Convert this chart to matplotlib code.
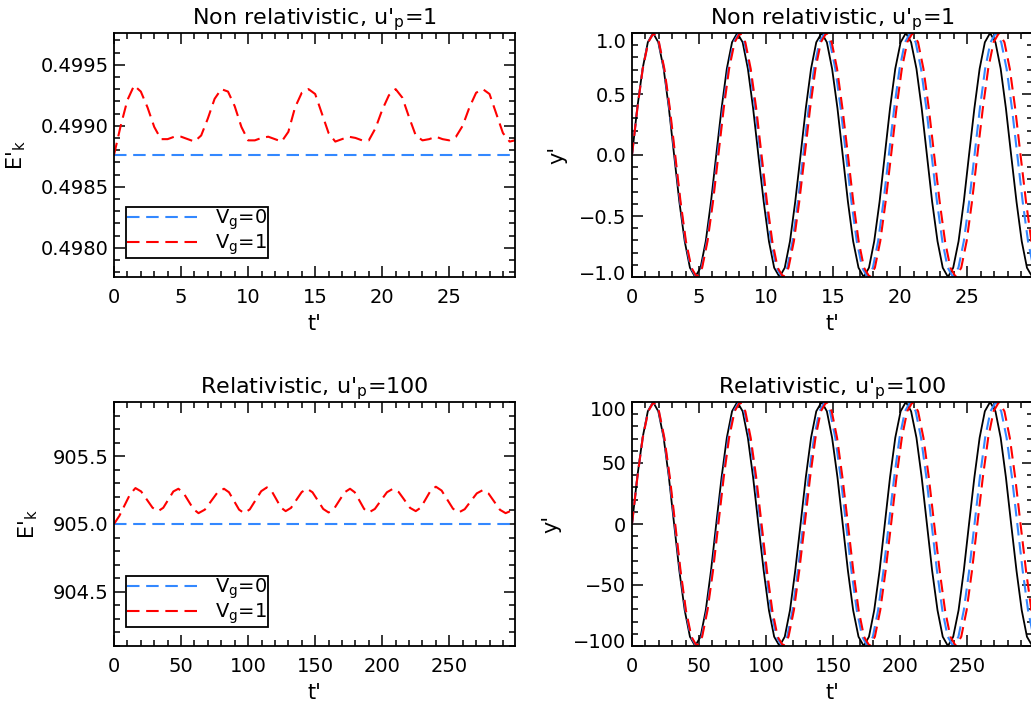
import matplotlib
matplotlib.use("Agg")
import matplotlib.pyplot as plt
from matplotlib.ticker import MultipleLocator, FuncFormatter
from matplotlib.transforms import ScaledTranslation

plt.rcParams['font.family'] = ['DejaVu Sans']
plt.rcParams['mathtext.default'] = 'regular'
plt.rcParams['lines.scale_dashes'] = False

# ---------------- data ----------------
# Kinetic energy, non relativistic (u'p = 1)
E_nr_t = [0.0, 0.5, 1.0, 1.5, 2.0, 2.5, 3.0, 3.5, 4.0, 4.5,
          5.0, 5.5, 6.0, 6.5, 7.0, 7.5, 8.0, 8.5, 9.0, 9.5,
          10.0, 10.5, 11.0, 11.5, 12.0, 12.5, 13.0, 13.5, 14.0, 14.5,
          15.0, 15.5, 16.0, 16.5, 17.0, 17.5, 18.0, 18.5, 19.0, 19.5,
          20.0, 20.5, 21.0, 21.5, 22.0, 22.5, 23.0, 23.5, 24.0, 24.5,
          25.0, 25.5, 26.0, 26.5, 27.0, 27.5, 28.0, 28.5, 29.0, 29.5, 29.9]
E_nr_vg1 = [0.49876, 0.49900, 0.49921, 0.49933, 0.49928, 0.49915, 0.49899, 0.49889, 0.49889, 0.49891,
            0.49891, 0.49889, 0.49887, 0.49892, 0.49906, 0.49922, 0.49930, 0.49928, 0.49916, 0.49899,
            0.49888, 0.49888, 0.49890, 0.49891, 0.49889, 0.49887, 0.49895, 0.49915, 0.49927, 0.49930,
            0.49926, 0.49910, 0.49894, 0.49887, 0.49889, 0.49891, 0.49890, 0.49888, 0.49888, 0.49898,
            0.49913, 0.49925, 0.49930, 0.49923, 0.49907, 0.49892, 0.49888, 0.49889, 0.49891, 0.49889,
            0.49888, 0.49891, 0.49900, 0.49915, 0.49927, 0.49930, 0.49926, 0.49910, 0.49894, 0.49887, 0.49888]
E_nr_vg0_t = [0.0, 29.9]
E_nr_vg0 = [0.49876, 0.49876]

# Kinetic energy, relativistic (u'p = 100)
E_r_t = [0, 4, 8, 12, 16,
         20.25, 24.5, 28.75, 33,
         36.75, 40.5, 44.25, 48,
         51.75, 55.5, 59.25, 63,
         67.75, 72.5, 77.25, 82,
         85.75, 89.5, 93.25, 97,
         101.25, 105.5, 109.75, 114,
         117.5, 121, 124.5, 128,
         132, 136, 140, 144,
         148, 152, 156, 160,
         164, 168, 172, 176,
         179.5, 183, 186.5, 190,
         194.5, 199, 203.5, 208,
         212.25, 216.5, 220.75, 225,
         228.75, 232.5, 236.25, 240,
         244.25, 248.5, 252.75, 257,
         261.5, 266, 270.5, 275,
         279.25, 283.5, 287.75, 292,
         295.5, 299]
E_r_vg1 = [905.000, 905.060, 905.140, 905.220, 905.265,
           905.240, 905.180, 905.120, 905.095,
           905.120, 905.180, 905.240, 905.260,
           905.230, 905.170, 905.110, 905.080,
           905.106, 905.170, 905.234, 905.260,
           905.234, 905.170, 905.106, 905.080,
           905.108, 905.175, 905.242, 905.270,
           905.244, 905.183, 905.121, 905.095,
           905.119, 905.178, 905.236, 905.260,
           905.234, 905.173, 905.111, 905.085,
           905.111, 905.173, 905.234, 905.260,
           905.234, 905.173, 905.111, 905.085,
           905.111, 905.173, 905.234, 905.260,
           905.236, 905.178, 905.119, 905.095,
           905.121, 905.185, 905.249, 905.275,
           905.247, 905.180, 905.113, 905.085,
           905.109, 905.168, 905.226, 905.250,
           905.225, 905.165, 905.105, 905.080,
           905.095, 905.120]
E_r_vg0_t = [0.0, 299.0]
E_r_vg0 = [905.0, 905.0]

# Trajectory y', non relativistic
ynr_ref_t = [0.00, 0.39, 0.79, 1.18, 1.57, 1.96, 2.36, 2.75,
             3.14, 3.53, 3.93, 4.32, 4.71, 5.11, 5.50, 5.89,
             6.28, 6.68, 7.07, 7.46, 7.85, 8.25, 8.64, 9.03,
             9.42, 9.82, 10.21, 10.60, 11.00, 11.39, 11.78, 12.17,
             12.57, 12.96, 13.35, 13.74, 14.14, 14.53, 14.92, 15.32,
             15.71, 16.10, 16.49, 16.89, 17.28, 17.67, 18.06, 18.46,
             18.85, 19.24, 19.63, 20.03, 20.42, 20.81, 21.21, 21.60,
             21.99, 22.38, 22.78, 23.17, 23.56, 23.95, 24.35, 24.74,
             25.13, 25.53, 25.92, 26.31, 26.70, 27.10, 27.49, 27.88,
             28.27, 28.67, 29.06, 29.45, 29.85, 30.24]
ynr_ref = [0.0, 0.383, 0.707, 0.924, 1.0, 0.924, 0.707, 0.383,
           0.0, -0.383, -0.707, -0.924, -1.0, -0.924, -0.707, -0.383,
           0.0, 0.383, 0.707, 0.924, 1.0, 0.924, 0.707, 0.383,
           0.0, -0.383, -0.707, -0.924, -1.0, -0.924, -0.707, -0.383,
           0.0, 0.383, 0.707, 0.924, 1.0, 0.924, 0.707, 0.383,
           0.0, -0.383, -0.707, -0.924, -1.0, -0.924, -0.707, -0.383,
           0.0, 0.383, 0.707, 0.924, 1.0, 0.924, 0.707, 0.383,
           0.0, -0.383, -0.707, -0.924, -1.0, -0.924, -0.707, -0.383,
           0.0, 0.383, 0.707, 0.924, 1.0, 0.924, 0.707, 0.383,
           0.0, -0.383, -0.707, -0.924, -1.0, -0.924]

ynr_vg0_t = [0.00, 0.40, 0.80, 1.20, 1.60, 2.00, 2.39, 2.79,
             3.19, 3.59, 3.99, 4.39, 4.79, 5.19, 5.59, 5.99,
             6.38, 6.78, 7.18, 7.58, 7.98, 8.38, 8.78, 9.18,
             9.58, 9.98, 10.37, 10.77, 11.17, 11.57, 11.97, 12.37,
             12.77, 13.17, 13.57, 13.97, 14.36, 14.76, 15.16, 15.56,
             15.96, 16.36, 16.76, 17.16, 17.56, 17.96, 18.35, 18.75,
             19.15, 19.55, 19.95, 20.35, 20.75, 21.15, 21.55, 21.95,
             22.34, 22.74, 23.14, 23.54, 23.94, 24.34, 24.74, 25.14,
             25.54, 25.94, 26.33, 26.73, 27.13, 27.53, 27.93, 28.33,
             28.73, 29.13, 29.53, 29.93, 30.32]
ynr_vg0 = [0.0, 0.383, 0.707, 0.924, 1.0, 0.924, 0.707, 0.383,
           0.0, -0.383, -0.707, -0.924, -1.0, -0.924, -0.707, -0.383,
           0.0, 0.383, 0.707, 0.924, 1.0, 0.924, 0.707, 0.383,
           0.0, -0.383, -0.707, -0.924, -1.0, -0.924, -0.707, -0.383,
           0.0, 0.383, 0.707, 0.924, 1.0, 0.924, 0.707, 0.383,
           0.0, -0.383, -0.707, -0.924, -1.0, -0.924, -0.707, -0.383,
           0.0, 0.383, 0.707, 0.924, 1.0, 0.924, 0.707, 0.383,
           0.0, -0.383, -0.707, -0.924, -1.0, -0.924, -0.707, -0.383,
           0.0, 0.383, 0.707, 0.924, 1.0, 0.924, 0.707, 0.383,
           0.0, -0.383, -0.707, -0.924, -1.0]

ynr_vg1_t = [0.00, 0.40, 0.80, 1.21, 1.61, 2.01, 2.41, 2.82,
             3.22, 3.62, 4.02, 4.43, 4.83, 5.23, 5.63, 6.04,
             6.44, 6.84, 7.24, 7.65, 8.05, 8.45, 8.85, 9.26,
             9.66, 10.06, 10.46, 10.86, 11.27, 11.67, 12.07, 12.47,
             12.88, 13.28, 13.68, 14.08, 14.49, 14.89, 15.29, 15.69,
             16.10, 16.50, 16.90, 17.30, 17.71, 18.11, 18.51, 18.91,
             19.32, 19.72, 20.12, 20.52, 20.92, 21.33, 21.73, 22.13,
             22.53, 22.94, 23.34, 23.74, 24.14, 24.55, 24.95, 25.35,
             25.75, 26.16, 26.56, 26.96, 27.36, 27.77, 28.17, 28.57,
             28.97, 29.38, 29.78, 30.18]
ynr_vg1 = [0.0, 0.383, 0.707, 0.924, 1.0, 0.924, 0.707, 0.383,
           0.0, -0.383, -0.707, -0.924, -1.0, -0.924, -0.707, -0.383,
           0.0, 0.383, 0.707, 0.924, 1.0, 0.924, 0.707, 0.383,
           0.0, -0.383, -0.707, -0.924, -1.0, -0.924, -0.707, -0.383,
           0.0, 0.383, 0.707, 0.924, 1.0, 0.924, 0.707, 0.383,
           0.0, -0.383, -0.707, -0.924, -1.0, -0.924, -0.707, -0.383,
           0.0, 0.383, 0.707, 0.924, 1.0, 0.924, 0.707, 0.383,
           0.0, -0.383, -0.707, -0.924, -1.0, -0.924, -0.707, -0.383,
           0.0, 0.383, 0.707, 0.924, 1.0, 0.924, 0.707, 0.383,
           0.0, -0.383, -0.707, -0.924]

# Trajectory y', relativistic
yr_ref_t = [0.0, 3.9, 7.9, 11.8, 15.7, 19.6, 23.6, 27.5,
            31.4, 35.3, 39.3, 43.2, 47.1, 51.1, 55.0, 58.9,
            62.8, 66.8, 70.7, 74.6, 78.5, 82.5, 86.4, 90.3,
            94.2, 98.2, 102.1, 106.0, 110.0, 113.9, 117.8, 121.7,
            125.7, 129.6, 133.5, 137.4, 141.4, 145.3, 149.2, 153.2,
            157.1, 161.0, 164.9, 168.9, 172.8, 176.7, 180.6, 184.6,
            188.5, 192.4, 196.3, 200.3, 204.2, 208.1, 212.1, 216.0,
            219.9, 223.8, 227.8, 231.7, 235.6, 239.5, 243.5, 247.4,
            251.3, 255.3, 259.2, 263.1, 267.0, 271.0, 274.9, 278.8,
            282.7, 286.7, 290.6, 294.5, 298.5, 302.4]
yr_ref = [0.0, 38.3, 70.7, 92.4, 100.0, 92.4, 70.7, 38.3,
          0.0, -38.3, -70.7, -92.4, -100.0, -92.4, -70.7, -38.3,
          0.0, 38.3, 70.7, 92.4, 100.0, 92.4, 70.7, 38.3,
          0.0, -38.3, -70.7, -92.4, -100.0, -92.4, -70.7, -38.3,
          0.0, 38.3, 70.7, 92.4, 100.0, 92.4, 70.7, 38.3,
          0.0, -38.3, -70.7, -92.4, -100.0, -92.4, -70.7, -38.3,
          0.0, 38.3, 70.7, 92.4, 100.0, 92.4, 70.7, 38.3,
          0.0, -38.3, -70.7, -92.4, -100.0, -92.4, -70.7, -38.3,
          0.0, 38.3, 70.7, 92.4, 100.0, 92.4, 70.7, 38.3,
          0.0, -38.3, -70.7, -92.4, -100.0, -92.4]

yr_vg0_t = [0.0, 4.0, 8.0, 12.0, 16.0, 20.0, 23.9, 27.9,
            31.9, 35.9, 39.9, 43.9, 47.9, 51.9, 55.9, 59.9,
            63.8, 67.8, 71.8, 75.8, 79.8, 83.8, 87.8, 91.8,
            95.8, 99.8, 103.7, 107.7, 111.7, 115.7, 119.7, 123.7,
            127.7, 131.7, 135.7, 139.7, 143.6, 147.6, 151.6, 155.6,
            159.6, 163.6, 167.6, 171.6, 175.6, 179.6, 183.5, 187.5,
            191.5, 195.5, 199.5, 203.5, 207.5, 211.5, 215.5, 219.5,
            223.4, 227.4, 231.4, 235.4, 239.4, 243.4, 247.4, 251.4,
            255.4, 259.4, 263.3, 267.3, 271.3, 275.3, 279.3, 283.3,
            287.3, 291.3, 295.3, 299.3, 303.2]
yr_vg0 = [0.0, 38.3, 70.7, 92.4, 100.0, 92.4, 70.7, 38.3,
          0.0, -38.3, -70.7, -92.4, -100.0, -92.4, -70.7, -38.3,
          0.0, 38.3, 70.7, 92.4, 100.0, 92.4, 70.7, 38.3,
          0.0, -38.3, -70.7, -92.4, -100.0, -92.4, -70.7, -38.3,
          0.0, 38.3, 70.7, 92.4, 100.0, 92.4, 70.7, 38.3,
          0.0, -38.3, -70.7, -92.4, -100.0, -92.4, -70.7, -38.3,
          0.0, 38.3, 70.7, 92.4, 100.0, 92.4, 70.7, 38.3,
          0.0, -38.3, -70.7, -92.4, -100.0, -92.4, -70.7, -38.3,
          0.0, 38.3, 70.7, 92.4, 100.0, 92.4, 70.7, 38.3,
          0.0, -38.3, -70.7, -92.4, -100.0]

yr_vg1_t = [0.0, 4.0, 8.0, 12.1, 16.1, 20.1, 24.1, 28.2,
            32.2, 36.2, 40.2, 44.3, 48.3, 52.3, 56.3, 60.4,
            64.4, 68.4, 72.4, 76.5, 80.5, 84.5, 88.5, 92.6,
            96.6, 100.6, 104.6, 108.6, 112.7, 116.7, 120.7, 124.7,
            128.8, 132.8, 136.8, 140.8, 144.9, 148.9, 152.9, 156.9,
            161.0, 165.0, 169.0, 173.0, 177.1, 181.1, 185.1, 189.1,
            193.2, 197.2, 201.2, 205.2, 209.2, 213.3, 217.3, 221.3,
            225.3, 229.4, 233.4, 237.4, 241.4, 245.5, 249.5, 253.5,
            257.5, 261.6, 265.6, 269.6, 273.6, 277.7, 281.7, 285.7,
            289.7, 293.8, 297.8, 301.8]
yr_vg1 = [0.0, 38.3, 70.7, 92.4, 100.0, 92.4, 70.7, 38.3,
          0.0, -38.3, -70.7, -92.4, -100.0, -92.4, -70.7, -38.3,
          0.0, 38.3, 70.7, 92.4, 100.0, 92.4, 70.7, 38.3,
          0.0, -38.3, -70.7, -92.4, -100.0, -92.4, -70.7, -38.3,
          0.0, 38.3, 70.7, 92.4, 100.0, 92.4, 70.7, 38.3,
          0.0, -38.3, -70.7, -92.4, -100.0, -92.4, -70.7, -38.3,
          0.0, 38.3, 70.7, 92.4, 100.0, 92.4, 70.7, 38.3,
          0.0, -38.3, -70.7, -92.4, -100.0, -92.4, -70.7, -38.3,
          0.0, 38.3, 70.7, 92.4, 100.0, 92.4, 70.7, 38.3,
          0.0, -38.3, -70.7, -92.4]

legend_labels = ["V$_g$=0", "V$_g$=1"]
title_nr = "Non relativistic, u$'_p$=1"
title_r = "Relativistic, u$'_p$=100"

# ---------------- styling ----------------
BLUE = '#3388ff'
RED = '#ff0000'
DASH = (0, (9.0, 4.8))
FS_TICK = 14
FS_TITLE = 16
FS_LABEL = 15
FS_LEG = 14

W, H = 1031.0, 707.0
fig = plt.figure(figsize=(W / 100, H / 100), dpi=100)


def axpos(left, top, w=401, h=244):
    return [left / W, 1 - (top + h) / H, w / W, h / H]


ax1 = fig.add_axes(axpos(114, 33))
ax2 = fig.add_axes(axpos(632, 33))
ax3 = fig.add_axes(axpos(114, 402))
ax4 = fig.add_axes(axpos(632, 402))


def fmt(decimals):
    def f(v, pos):
        return ("%.*f" % (decimals, v)).replace('-', '\u2212')
    return FuncFormatter(f)


def style(ax):
    ax.tick_params(which='both', direction='in', top=True, right=True,
                   labelsize=FS_TICK, width=1.1, color='black')
    ax.tick_params(which='major', length=8)
    ax.tick_params(which='minor', length=4)
    ax.tick_params(axis='x', pad=8)
    ax.tick_params(axis='y', pad=4)
    for s in ax.spines.values():
        s.set_linewidth(1.3)


# --- top-left: E'k non relativistic
ax1.plot(E_nr_vg0_t, E_nr_vg0, color=BLUE, lw=1.5, linestyle=DASH, label=legend_labels[0])
ax1.plot(E_nr_t, E_nr_vg1, color=RED, lw=1.5, linestyle=DASH, label=legend_labels[1])
ax1.set_xlim(0, 29.9)
ax1.set_ylim(0.49776, 0.49976)
ax1.set_yticks([0.4980, 0.4985, 0.4990, 0.4995])
ax1.yaxis.set_major_formatter(fmt(4))
ax1.yaxis.set_minor_locator(MultipleLocator(0.0001))
ax1.set_xticks([0, 5, 10, 15, 20, 25])
ax1.xaxis.set_minor_locator(MultipleLocator(1))

# --- bottom-left: E'k relativistic
ax3.plot(E_r_vg0_t, E_r_vg0, color=BLUE, lw=1.5, linestyle=DASH, label=legend_labels[0])
ax3.plot(E_r_t, E_r_vg1, color=RED, lw=1.5, linestyle=DASH, label=legend_labels[1])
ax3.set_xlim(0, 299)
ax3.set_ylim(904.1, 905.9)
ax3.set_yticks([904.5, 905.0, 905.5])
ax3.yaxis.set_major_formatter(fmt(1))
ax3.yaxis.set_minor_locator(MultipleLocator(0.1))
ax3.set_xticks([0, 50, 100, 150, 200, 250])
ax3.xaxis.set_minor_locator(MultipleLocator(10))

# --- top-right: y' non relativistic
ax2.plot(ynr_ref_t, ynr_ref, color='black', lw=1.3)
ax2.plot(ynr_vg0_t, ynr_vg0, color=BLUE, lw=1.5, linestyle=DASH)
ax2.plot(ynr_vg1_t, ynr_vg1, color=RED, lw=1.5, linestyle=DASH)
ax2.set_xlim(0, 29.9)
ax2.set_ylim(-1, 1)
ax2.set_yticks([-1.0, -0.5, 0.0, 0.5, 1.0])
ax2.yaxis.set_major_formatter(fmt(1))
ax2.yaxis.set_minor_locator(MultipleLocator(0.1))
ax2.set_xticks([0, 5, 10, 15, 20, 25])
ax2.xaxis.set_minor_locator(MultipleLocator(1))

# --- bottom-right: y' relativistic
ax4.plot(yr_ref_t, yr_ref, color='black', lw=1.3)
ax4.plot(yr_vg0_t, yr_vg0, color=BLUE, lw=1.5, linestyle=DASH)
ax4.plot(yr_vg1_t, yr_vg1, color=RED, lw=1.5, linestyle=DASH)
ax4.set_xlim(0, 299)
ax4.set_ylim(-100, 100)
ax4.set_yticks([-100, -50, 0, 50, 100])
ax4.yaxis.set_major_formatter(fmt(0))
ax4.yaxis.set_minor_locator(MultipleLocator(10))
ax4.set_xticks([0, 50, 100, 150, 200, 250])
ax4.xaxis.set_minor_locator(MultipleLocator(10))

for ax in (ax1, ax2, ax3, ax4):
    style(ax)
    ax.set_xlabel("t'", fontsize=FS_LABEL)
    ax.xaxis.set_label_coords(0.5, -0.15)

ax1.set_title(title_nr, fontsize=FS_TITLE, pad=6)
ax2.set_title(title_nr, fontsize=FS_TITLE, pad=6)
ax3.set_title(title_r, fontsize=FS_TITLE, pad=6)
ax4.set_title(title_r, fontsize=FS_TITLE, pad=6)

ax1.set_ylabel("E$'_k$", fontsize=FS_LABEL)
ax3.set_ylabel("E$'_k$", fontsize=FS_LABEL)
ax2.set_ylabel("y'", fontsize=FS_LABEL)
ax4.set_ylabel("y'", fontsize=FS_LABEL)
ax1.yaxis.set_label_coords(-0.215, 0.5)
ax3.yaxis.set_label_coords(-0.185, 0.5)
ax2.yaxis.set_label_coords(-0.162, 0.5)
ax4.yaxis.set_label_coords(-0.175, 0.5)

# shift end tick labels inward (as in the reference)
for ax in (ax2, ax4):
    ticks = ax.yaxis.get_major_ticks()
    lab_top = ticks[-1].label1
    lab_bot = ticks[0].label1
    lab_top.set_transform(lab_top.get_transform() + ScaledTranslation(0, -0.07, fig.dpi_scale_trans))
    lab_bot.set_transform(lab_bot.get_transform() + ScaledTranslation(0, 0.05, fig.dpi_scale_trans))

for ax in (ax1, ax3):
    leg = ax.legend(loc='lower left', bbox_to_anchor=(0.03, 0.078), borderaxespad=0,
                    fontsize=FS_LEG, handlelength=3.9, handletextpad=0.6,
                    labelspacing=0.0, borderpad=0.05, fancybox=False,
                    framealpha=1, edgecolor='black')
    leg.get_frame().set_linewidth(1.3)

fig.savefig("out.png", dpi=100)
